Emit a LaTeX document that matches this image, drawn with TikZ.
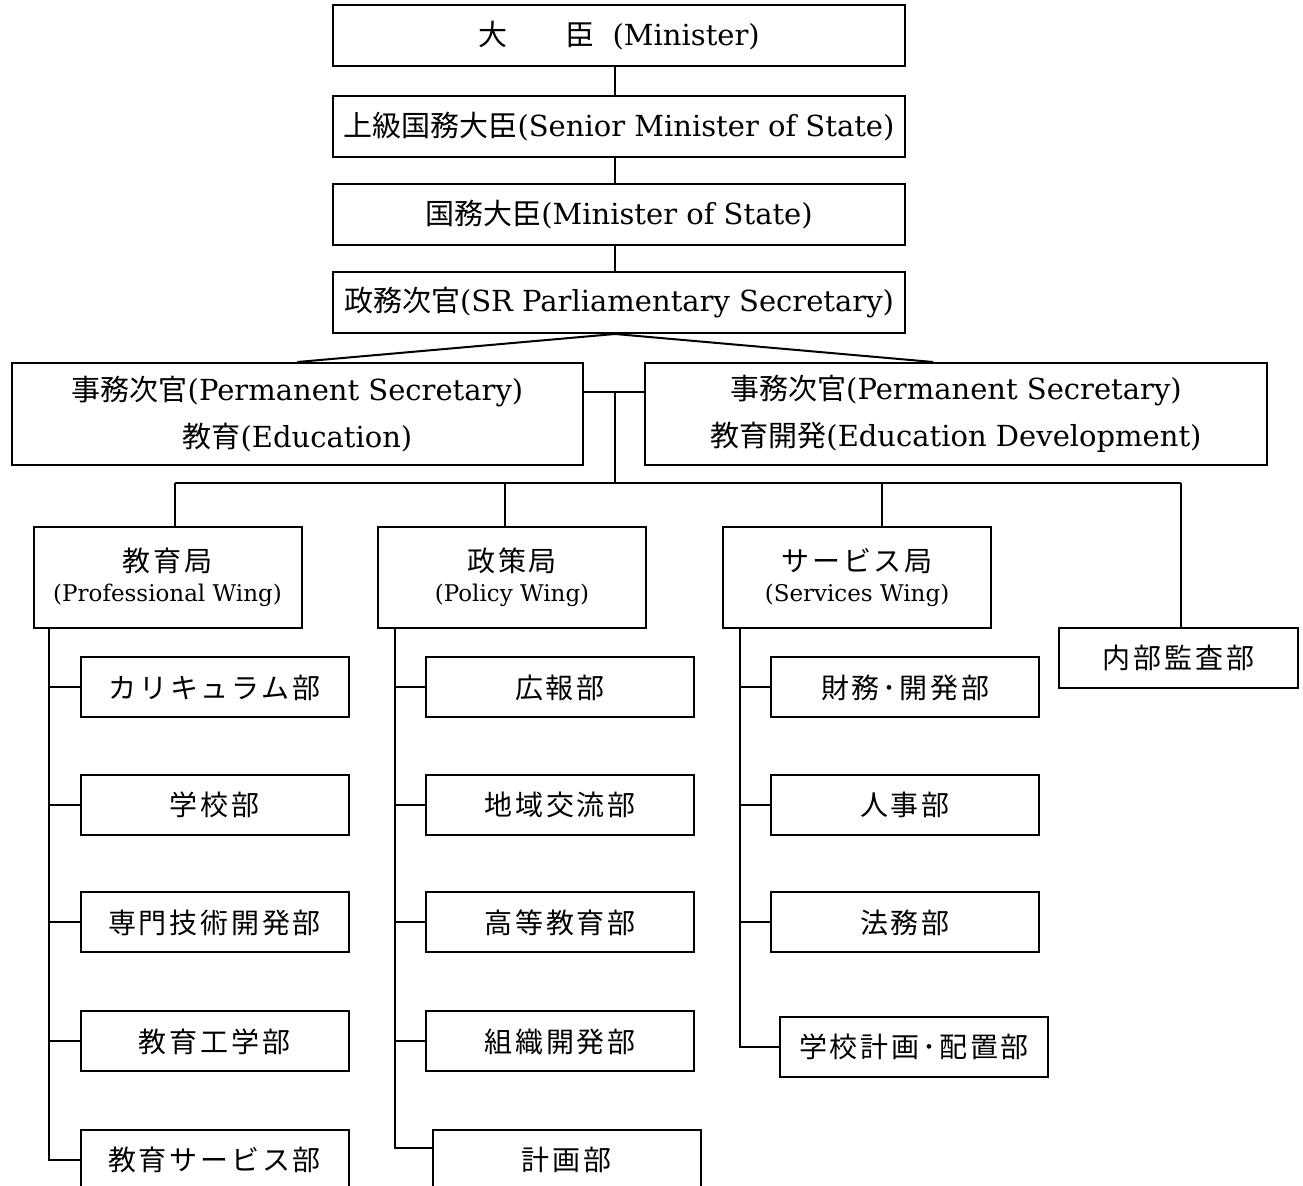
\documentclass[tikz,border=0pt]{standalone}
\usepackage{fontspec}
\setmainfont{DejaVu Serif}
\newfontfamily\jp{Noto Sans CJK JP}
\newfontfamily\jpw{Noto Sans CJK JP}[LetterSpace=10]
\usetikzlibrary{calc}
\newcommand{\wingname}[2]{{\jpw #1}\\{\fontsize{11.5}{15}\selectfont #2}}

\begin{document}
\begin{tikzpicture}[x=0.5pt,y=-0.5pt,line width=1pt,
		box/.style={draw,line width=1pt,inner sep=0pt,align=center},
		post/.style={box,minimum width=286pt,minimum height=30.5pt,font=\fontsize{14.5}{18}\selectfont},
		sec/.style={box,minimum width=#1,minimum height=51pt,font=\fontsize{14.5}{23.5}\selectfont},
		wing/.style={box,minimum width=134pt,minimum height=50.5pt,font=\fontsize{14}{15}\selectfont},
		unit/.style={box,minimum width=134pt,minimum height=30pt,font=\fontsize{14}{16}\selectfont\jpw}]
	\useasboundingbox (0,0) rectangle (1303,1186);
	\node[post] (min) at (619,36) {{\jp 大　　臣}\ \ (Minister)};
	\node[post] (smin) at (619,126.5) {{\jp 上級国務大臣}(Senior Minister of State)};
	\node[post] (mst) at (619,214.5) {{\jp 国務大臣}(Minister of State)};
	\node[post] (parl) at (619,302.5) {{\jp 政務次官}(SR Parliamentary Secretary)};
	\node[sec=285.5pt] (pse) at (297.5,414) {{\jp 事務次官}(Permanent Secretary)\\{\jp 教育}(Education)};
	\node[sec=311pt] (psd) at (956,414) {{\jp 事務次官}(Permanent Secretary)\\{\jp 教育開発}(Education Development)};
	\node[wing] (wp) at (167.5,577.5) {\wingname{教育局}{(Professional Wing)}};
	\node[wing] (wo) at (512,577.5) {\wingname{政策局}{(Policy Wing)}};
	\node[wing] (ws) at (857,577.5) {\wingname{サービス局}{(Services Wing)}};
	\node[box,minimum width=119.5pt,minimum height=30pt,font=\fontsize{14}{16}\selectfont\jpw] (aud) at (1178.5,658) {内部監査部};
	\node[unit] (u11) at (214.5,687.5) {カリキュラム部};
	\node[unit] (u12) at (214.5,805) {学校部};
	\node[unit] (u13) at (214.5,922.5) {専門技術開発部};
	\node[unit] (u14) at (214.5,1041.5) {教育工学部};
	\node[unit] (u15) at (214.5,1160) {教育サービス部};
	\node[unit] (u21) at (560,687.5) {広報部};
	\node[unit] (u22) at (560,805) {地域交流部};
	\node[unit] (u23) at (560,922.5) {高等教育部};
	\node[unit] (u24) at (560,1041.5) {組織開発部};
	\node[unit] (u25) at (566.5,1160) {計画部};
	\node[unit] (u31) at (905,687.5) {財務･開発部};
	\node[unit] (u32) at (905,805) {人事部};
	\node[unit] (u33) at (905,922.5) {法務部};
	\node[unit] (u34) at (914,1047) {学校計画･配置部};
	\coordinate (sp) at (615,0);
	\coordinate (pdt) at (933,0);
	\coordinate (hub) at (615,392);
	\coordinate (b1) at (175,483);
	\coordinate (b2) at (505,483);
	\coordinate (b3) at (882,483);
	\coordinate (b4) at (1181,483);
	\coordinate (c1) at (49,0);
	\coordinate (c2) at (395,0);
	\coordinate (c3) at (740,0);
	\coordinate (kk) at (395,1148);
	\path (min.south -| sp) edge (smin.north -| sp)
		(smin.south -| sp) edge (mst.north -| sp)
		(mst.south -| sp) edge (parl.north -| sp)
		(parl.south -| sp) edge (pse.north) edge (psd.north -| pdt)
		(pse.east |- hub) edge (psd.west |- hub)
		(hub) edge (hub |- b1);
	\draw (b1) -- (b4);
	\path (b1) edge (b1 |- wp.north)
		(b2) edge (b2 |- wo.north)
		(b3) edge (b3 |- ws.north)
		(b4) edge (b4 |- aud.north);
	\draw (wp.south -| c1) |- (u15.west);
	\path (u11.west) edge (u11.west -| c1)
		(u12.west) edge (u12.west -| c1)
		(u13.west) edge (u13.west -| c1)
		(u14.west) edge (u14.west -| c1);
	\draw (wo.south -| c2) -- (kk) -- (kk -| u25.west);
	\path (u21.west) edge (u21.west -| c2)
		(u22.west) edge (u22.west -| c2)
		(u23.west) edge (u23.west -| c2)
		(u24.west) edge (u24.west -| c2);
	\draw (ws.south -| c3) |- (u34.west);
	\path (u31.west) edge (u31.west -| c3)
		(u32.west) edge (u32.west -| c3)
		(u33.west) edge (u33.west -| c3);
\end{tikzpicture}
\end{document}
